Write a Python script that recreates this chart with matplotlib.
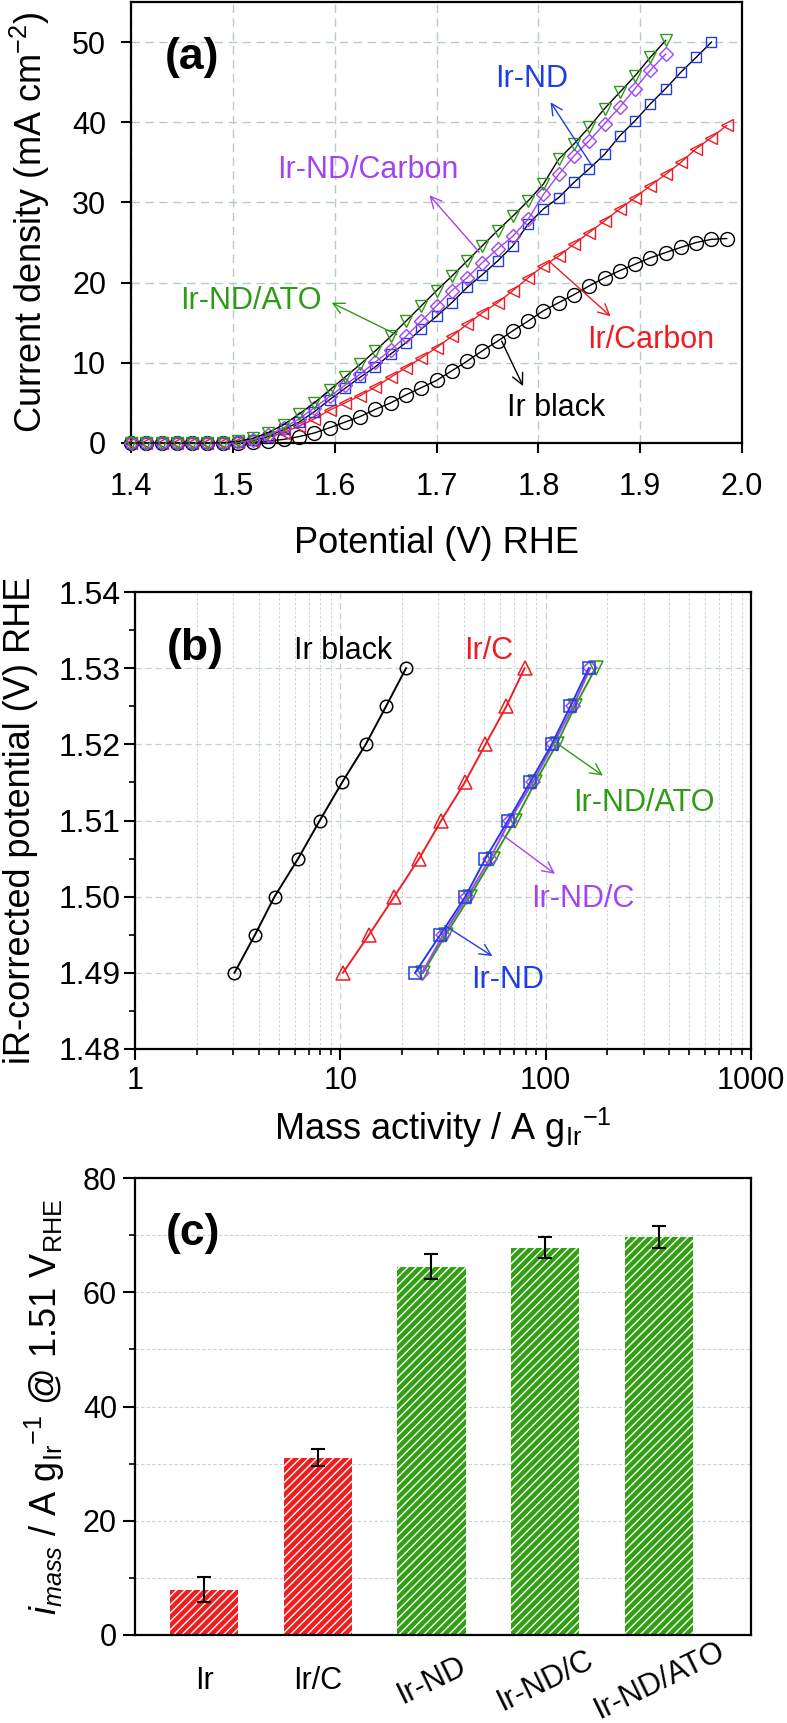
import matplotlib
matplotlib.use("Agg")
import matplotlib.pyplot as plt
from matplotlib.ticker import (MultipleLocator, LogLocator, NullFormatter,
                               FormatStrFormatter)

plt.rcParams["font.family"] = ["Liberation Sans", "DejaVu Sans"]
plt.rcParams["mathtext.fontset"] = "custom"
plt.rcParams["mathtext.rm"] = "Liberation Sans"
plt.rcParams["mathtext.it"] = "Liberation Sans:italic"
plt.rcParams["mathtext.bf"] = "Liberation Sans:bold"
plt.rcParams["hatch.linewidth"] = 1.0

BLACK = "black"
RED = "#ee1d23"
BLUE = "#1f3ee6"
PURPLE = "#a245f0"
GREEN = "#2f9a14"
BAR_RED = "#f01f1f"
BAR_GREEN = "#32a012"

# ---- (a) polarization curves -------------------------------------------
potential = [1.400, 1.415, 1.430, 1.445, 1.460, 1.475, 1.490, 1.505, 1.520, 1.535,
             1.550, 1.565, 1.580, 1.595, 1.610, 1.625, 1.640, 1.655, 1.670, 1.685,
             1.700, 1.715, 1.730, 1.745, 1.760, 1.775, 1.790, 1.805, 1.820, 1.835,
             1.850, 1.865, 1.880, 1.895, 1.910, 1.925, 1.940, 1.955, 1.970, 1.985]
j_ir_black = [0, 0, 0, 0, 0, 0, 0.02, 0.05, 0.1, 0.25,
              0.45, 0.8, 1.25, 1.9, 2.6, 3.3, 4.2, 5.0, 6.0, 6.9,
              7.8, 9.0, 10.2, 11.5, 12.7, 14.0, 15.2, 16.5, 17.5, 18.5,
              19.6, 20.6, 21.5, 22.3, 23.1, 23.75, 24.4, 25.0, 25.4, 25.5]
j_ir_carbon = [0, 0, 0, 0, 0, 0, 0.03, 0.1, 0.3, 0.7,
               1.3, 2.1, 3.0, 4.1, 5.0, 5.9, 7.0, 8.2, 9.4, 10.6,
               11.9, 13.3, 14.8, 16.25, 17.5, 19.0, 20.6, 22.1, 23.3, 24.8,
               26.25, 27.7, 29.2, 30.6, 32.1, 33.5, 35.0, 36.7, 38.1, 39.6]
j_ir_nd = [0, 0, 0, 0, 0, 0, 0.03, 0.1, 0.35, 0.8,
           1.7, 2.6, 3.9, 5.4, 6.8, 8.2, 9.5, 11.1, 12.5, 14.2,
           15.8, 17.5, 19.4, 21.0, 22.7, 24.6, 27.3, 29.2, 30.6, 32.5,
           34.2, 36.0, 38.3, 40.2, 42.3, 44.2, 46.25, 48.1, 50.0]
j_ir_nd_carbon = [0, 0, 0, 0, 0, 0, 0.03, 0.1, 0.4, 1.0,
                  1.9, 3.0, 4.4, 5.8, 7.2, 8.6, 10.1, 11.6, 13.3, 15.2,
                  17.1, 19.0, 20.6, 22.5, 24.2, 25.8, 27.9, 31.0, 33.5, 35.8,
                  37.7, 39.8, 41.9, 44.2, 46.5, 48.5]
j_ir_nd_ato = [0, 0, 0, 0, 0, 0, 0.03, 0.2, 0.6, 1.3,
               2.3, 3.6, 5.0, 6.6, 8.2, 9.8, 11.5, 13.3, 15.2, 17.1,
               19.0, 20.8, 22.7, 24.6, 26.5, 28.3, 30.2, 32.3, 35.4, 37.3,
               39.4, 41.7, 43.75, 45.8, 48.1, 50.2]

# ---- (b) Tafel-type plot -------------------------------------------------
e_ir = [1.490, 1.495, 1.500, 1.505, 1.510, 1.515, 1.520, 1.525, 1.530]
ma_ir_black = [3.05, 3.84, 4.78, 6.23, 7.94, 10.2, 13.3, 16.7, 20.9]
ma_ir_c = [10.3, 13.8, 18.3, 24.2, 31.0, 40.4, 50.9, 64.4, 78.9]
ma_ir_nd = [23.1, 30.7, 40.6, 50.9, 65.6, 84.0, 107, 132, 162]
ma_ir_nd_c = [25.0, 31.7, 41.6, 53.5, 67.0, 86.4, 109, 136, 165]
ma_ir_nd_ato = [25.3, 32.6, 42.7, 55.1, 71.0, 88.9, 113, 139, 175]
log_ticks = [1, 10, 100, 1000]

# ---- (c) bar chart ------------------------------------------------------
catalysts = ["Ir", "Ir/C", "Ir-ND", "Ir-ND/C", "Ir-ND/ATO"]
mass_activity = [7.9, 31.0, 64.5, 67.8, 69.7]
mass_activity_err = [2.2, 1.5, 2.2, 1.8, 1.9]
label_rotation = [0, 0, 26, 26, 26]

W, H = 787, 1723


def add_axes_px(fig, left, top, right, bottom):
    return fig.add_axes([left / W, 1 - bottom / H,
                         (right - left) / W, (bottom - top) / H])


def style_spines(ax):
    for sp in ax.spines.values():
        sp.set_linewidth(1.6)


def arrow(ax, start, end, color):
    ax.annotate("", xy=end, xytext=start,
                arrowprops=dict(arrowstyle="->", color=color, lw=1.0,
                                shrinkA=0, shrinkB=0, mutation_scale=20))


fig = plt.figure(figsize=(W / 100, H / 100), dpi=100)

# ================= panel (a) =================
ax = add_axes_px(fig, 131, 2, 742, 443)
ax.set_xlim(1.4, 2.0)
ax.set_ylim(0, 55)
ax.xaxis.set_major_locator(MultipleLocator(0.1))
ax.xaxis.set_major_formatter(FormatStrFormatter("%.1f"))
ax.yaxis.set_major_locator(MultipleLocator(10))
ax.grid(True, color="#b9c9ce", linestyle=(0, (6, 4)), linewidth=1.0)
ax.set_axisbelow(True)

common = dict(mfc="none", mew=1.0, lw=1.0, clip_on=False, zorder=3)
ax.plot(potential[:len(j_ir_black)], j_ir_black, color=BLACK, marker="o",
        ms=10, mec=BLACK, **common)
ax.plot(potential[:len(j_ir_carbon)], j_ir_carbon, color=RED, marker="<",
        ms=8.5, mec=RED, **common)
ax.plot(potential[:len(j_ir_nd)], j_ir_nd, color=BLACK, marker="s",
        ms=7.5, mec=BLUE, **common)
ax.plot(potential[:len(j_ir_nd_carbon)], j_ir_nd_carbon, color=PURPLE,
        marker="D", ms=7, mec=PURPLE, **common)
ax.plot(potential[:len(j_ir_nd_ato)], j_ir_nd_ato, color=BLACK, marker="v",
        ms=8.5, mec=GREEN, **common)

ax.tick_params(axis="both", direction="out", length=7, width=1.5,
               labelsize=22)
ax.tick_params(axis="x", pad=14)
ax.tick_params(axis="y", pad=11)
style_spines(ax)
ax.set_xlabel("Potential (V) RHE", fontsize=26, va="center")
ax.xaxis.set_label_coords(0.5, -0.227)
ax.set_ylabel("Current density (mA cm$^{-2}$)", fontsize=26, va="center")
ax.yaxis.set_label_coords(-101 / 611, 0.5)

ax.text(0.100, 0.875, "(a)", transform=ax.transAxes, fontsize=32,
        fontweight="bold", ha="center", va="center")
ax.text(0.656, 0.825, "Ir-ND", transform=ax.transAxes, fontsize=22,
        color=BLUE, ha="center", va="center")
ax.text(0.387, 0.619, "Ir-ND/Carbon", transform=ax.transAxes, fontsize=22,
        color=PURPLE, ha="center", va="center")
ax.text(0.196, 0.322, "Ir-ND/ATO", transform=ax.transAxes, fontsize=22,
        color=GREEN, ha="center", va="center")
ax.text(0.851, 0.234, "Ir/Carbon", transform=ax.transAxes, fontsize=22,
        color=RED, ha="center", va="center")
ax.text(0.695, 0.079, "Ir black", transform=ax.transAxes, fontsize=22,
        color=BLACK, ha="center", va="center")
arrow(ax, (1.853, 34.5), (1.812, 42.5), BLUE)
arrow(ax, (1.742, 23.8), (1.693, 30.9), PURPLE)
arrow(ax, (1.661, 13.5), (1.597, 17.5), GREEN)
arrow(ax, (1.812, 22.5), (1.871, 15.8), RED)
arrow(ax, (1.764, 12.7), (1.785, 7.1), BLACK)

# ================= panel (b) =================
ax = add_axes_px(fig, 135, 592, 751, 1049)
ax.set_xscale("log")
ax.set_xlim(1, 1000)
ax.set_ylim(1.48, 1.54)
ax.set_xticks(log_ticks)
ax.set_xticklabels([str(t) for t in log_ticks])
ax.xaxis.set_minor_locator(LogLocator(base=10, subs=range(2, 10)))
ax.xaxis.set_minor_formatter(NullFormatter())
ax.yaxis.set_major_locator(MultipleLocator(0.01))
ax.yaxis.set_minor_locator(MultipleLocator(0.005))
ax.yaxis.set_major_formatter(FormatStrFormatter("%.2f"))
ax.grid(True, which="major", color="#c3d1d5", linestyle=(0, (5, 3)),
        linewidth=0.9)
ax.grid(True, which="minor", axis="x", color="#c8d5d9",
        linestyle=(0, (2, 2)), linewidth=0.8)
ax.set_axisbelow(True)

ax.plot(ma_ir_black, e_ir, color=BLACK, marker="o", ms=9, mfc="none",
        mew=1.1, lw=1.4)
ax.plot(ma_ir_c, e_ir, color=RED, marker="^", ms=9.5, mfc="none",
        mew=1.1, lw=1.4)
ax.plot(ma_ir_nd_ato, e_ir, color=GREEN, marker="v", ms=9.5, mfc="none",
        mew=1.1, lw=1.4)
ax.plot(ma_ir_nd_c, e_ir, color=PURPLE, marker="D", ms=7.5, mfc="none",
        mew=1.1, lw=1.4)
ax.plot(ma_ir_nd, e_ir, color=BLUE, marker="s", ms=8.5, mfc="none",
        mew=1.1, lw=1.4)

ax.tick_params(axis="both", which="major", direction="out", length=8,
               width=1.5, labelsize=23)
ax.tick_params(axis="both", which="minor", direction="out", length=4.5,
               width=1.2)
ax.tick_params(axis="x", which="major", labelsize=22, pad=4)
ax.tick_params(axis="y", which="major", pad=2)
style_spines(ax)
ax.set_xlabel("Mass activity / A g$_{\\mathrm{Ir}}$$^{-1}$", fontsize=26,
              va="center")
ax.xaxis.set_label_coords(0.5, -0.173)
ax.set_ylabel("iR-corrected potential (V) RHE", fontsize=26, va="center")
ax.yaxis.set_label_coords(-114 / 616, 0.5)

ax.text(0.098, 0.877, "(b)", transform=ax.transAxes, fontsize=32,
        fontweight="bold", ha="center", va="center")
ax.text(0.338, 0.871, "Ir black", transform=ax.transAxes, fontsize=22,
        color=BLACK, ha="center", va="center")
ax.text(0.574, 0.871, "Ir/C", transform=ax.transAxes, fontsize=22,
        color=RED, ha="center", va="center")
ax.text(0.826, 0.539, "Ir-ND/ATO", transform=ax.transAxes, fontsize=22,
        color=GREEN, ha="center", va="center")
ax.text(0.727, 0.328, "Ir-ND/C", transform=ax.transAxes, fontsize=22,
        color=PURPLE, ha="center", va="center")
ax.text(0.605, 0.152, "Ir-ND", transform=ax.transAxes, fontsize=22,
        color=BLUE, ha="center", va="center")
arrow(ax, (111, 1.5203), (190, 1.5159), GREEN)
arrow(ax, (61.6, 1.5081), (111, 1.5030), PURPLE)
arrow(ax, (32.3, 1.4962), (55.0, 1.4922), BLUE)

# ================= panel (c) =================
ax = add_axes_px(fig, 135, 1178, 751, 1635)
positions = list(range(1, len(catalysts) + 1))
bar_colors = [BAR_RED, BAR_RED, BAR_GREEN, BAR_GREEN, BAR_GREEN]
ax.bar(positions, mass_activity, width=0.6, color=bar_colors,
       edgecolor="white", linewidth=0, hatch="////", zorder=2)
ax.errorbar(positions, mass_activity, yerr=mass_activity_err, fmt="none",
            ecolor="black", elinewidth=1.5, capsize=5, capthick=1.5,
            zorder=3)
ax.set_xlim(0.393, 5.81)
ax.set_ylim(0, 80)
ax.yaxis.set_major_locator(MultipleLocator(20))
ax.yaxis.set_minor_locator(MultipleLocator(10))
ax.grid(True, which="both", axis="y", color="#c5d4d8",
        linestyle=(0, (3, 2)), linewidth=0.8)
ax.set_axisbelow(True)
ax.set_xticks(positions)
ax.set_xticklabels(catalysts)
for lab, rot in zip(ax.get_xticklabels(), label_rotation):
    lab.set_rotation(rot)
    lab.set_va("center")
    lab.set_ha("center")
ax.tick_params(axis="x", length=0, labelsize=22, pad=33)
ax.tick_params(axis="y", which="major", direction="out", length=9,
               width=1.5, labelsize=22, pad=4)
ax.tick_params(axis="y", which="minor", direction="out", length=4.5,
               width=1.2)
style_spines(ax)
ax.set_ylabel("$i_{mass}$ / A g$_{\\mathrm{Ir}}$$^{-1}$ @ 1.51 "
              "V$_{\\mathrm{RHE}}$", fontsize=26, va="center")
ax.yaxis.set_label_coords(-90 / 616, 0.5)
ax.text(0.094, 0.879, "(c)", transform=ax.transAxes, fontsize=32,
        fontweight="bold", ha="center", va="center")

fig.savefig("out.png", dpi=100, facecolor="white")
